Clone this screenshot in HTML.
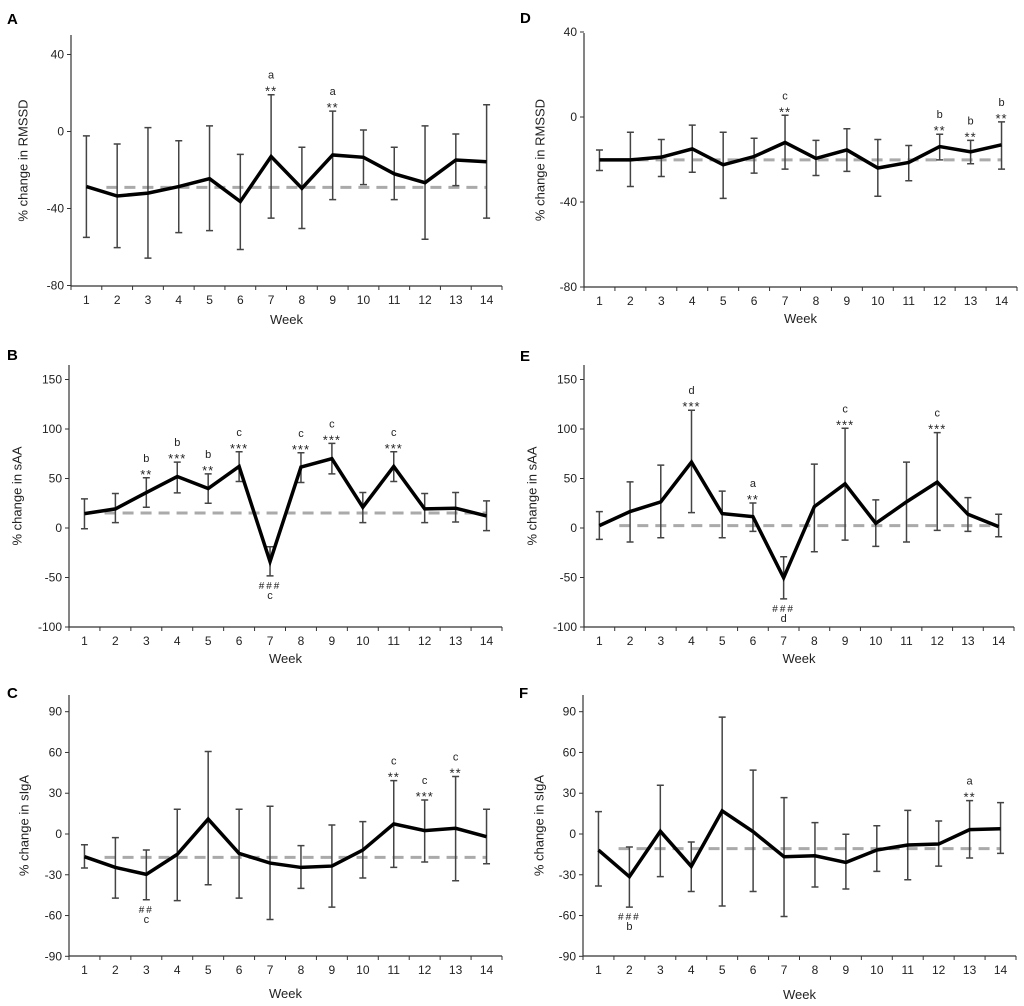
<!DOCTYPE html>
<html><head><meta charset="utf-8"><style>
html,body{margin:0;padding:0;background:#fff;}
svg{display:block;font-family:"Liberation Sans",Arial,sans-serif;}
</style></head><body>
<svg id="fig" width="1024" height="1006" viewBox="0 0 1024 1006"></svg>
<script>
const weeks = [1,2,3,4,5,6,7,8,9,10,11,12,13,14];

const aMean = [-28.6,-33.5,-32,-28.6,-24.5,-36.4,-13,-29.5,-12.2,-13.4,-22,-26.6,-14.8,-15.7];
const aHi = [-2.3,-6.5,2,-4.8,2.9,-11.9,19.1,-8.2,10.6,0.8,-8.2,2.9,-1.3,13.9];
const aLo = [-55,-60.3,-65.8,-52.5,-51.5,-61.3,-45,-50.4,-35.4,-27.6,-35.4,-56,-28.1,-45];
const aBase = -29;
const aTicks = [-80,-40,0,40];

const dMean = [-20.2,-20.2,-18.9,-15,-22.5,-18.6,-12,-19.5,-15.5,-24,-21.4,-13.9,-16.4,-13.1];
const dHi = [-15.5,-7.2,-10.6,-3.8,-7.2,-10,0.8,-11,-5.5,-10.6,-13.4,-8.1,-11,-2.3];
const dLo = [-25.2,-32.7,-28,-26,-38.3,-26.4,-24.5,-27.5,-25.6,-37.3,-30,-20.2,-22,-24.5];
const dBase = -20.2;
const dTicks = [-80,-40,0,40];

const bMean = [14.5,19.3,35.8,52,39.9,62.2,-34,61.5,70,21,62.2,19.3,20,12.2];
const bHi = [29.4,34.8,50.7,66.6,54.7,77,-19,76,85.5,35.8,77,34.8,35.8,27.4];
const bLo = [-0.7,5.4,21,35.5,25,47,-48.3,46,54.7,5.4,47,5.4,6,-2.7];
const bBase = 15.2;
const bTicks = [-100,-50,0,50,100,150];

const eMean = [2.4,16.6,26.4,66.6,14.5,11.5,-50.3,21.6,44.6,4.7,26.4,46.3,13.9,1.4];
const eHi = [16.6,46.6,63.5,119,37.2,25.3,-29,64.5,100.7,28.4,66.6,96.3,30.7,13.9];
const eLo = [-11.5,-14.2,-9.8,15.5,-9.8,-3.4,-71.6,-24,-12.2,-18.6,-14.2,-2.4,-3.4,-8.8];
const eBase = 2.4;
const eTicks = [-100,-50,0,50,100,150];

const cMean = [-16.7,-24.6,-29.7,-15,11,-14.3,-21.4,-24.6,-23.6,-11.8,7.4,2.5,4.2,-2];
const cHi = [-7.9,-2.7,-11.8,18.2,60.7,18.2,20.4,-8.6,6.6,9.1,39.3,25,42.3,18.2];
const cLo = [-25,-47.2,-48.4,-49,-37.3,-47.2,-62.9,-40,-53.8,-32.4,-24.6,-20.6,-34.4,-21.9];
const cBase = -17.2;
const cTicks = [-90,-60,-30,0,30,60,90];

const fMean = [-11.8,-31.4,2,-23.8,17,1.7,-16.7,-16,-20.9,-11.8,-8.1,-7.4,3.2,3.9];
const fHi = [16.5,-9.6,35.9,-5.9,86,47,26.8,8.4,-0.2,6.1,17.4,9.6,24.6,23.1];
const fLo = [-38.3,-53.8,-31.4,-42.3,-53,-42.3,-60.7,-39,-40.5,-27.5,-33.7,-23.6,-17.7,-14.3];
const fBase = -10.8;
const fTicks = [-90,-60,-30,0,30,60,90];

const aAbove = [[7,'a','**'],[9,'a','**']];
const dAbove = [[7,'c','**'],[12,'b','**'],[13,'b','**'],[14,'b','**']];
const bAbove = [[3,'b','**'],[4,'b','***'],[5,'b','**'],[6,'c','***'],[8,'c','***'],[9,'c','***'],[11,'c','***']];
const bBelow = [[7,'###','c']];
const eAbove = [[4,'d','***'],[6,'a','**'],[9,'c','***'],[12,'c','***']];
const eBelow = [[7,'###','d']];
const cAbove = [[11,'c','**'],[12,'c','***'],[13,'c','**']];
const cBelow = [[3,'##','c']];
const fAbove = [[13,'a','**']];
const fBelow = [[2,'###','b']];

const NS='http://www.w3.org/2000/svg';
const svg=document.getElementById('fig');
function mk(tag,attrs,parent){const e=document.createElementNS(NS,tag);for(const k in attrs)e.setAttribute(k,attrs[k]);(parent||svg).appendChild(e);return e;}

function panel(o){
  const g=mk('g',{});
  
  
  const L=o.left,R=o.right,B=o.bottom,T=o.top;
  const y=v=>o.y0px-(v-o.y0)*o.ppu;
  const step=(R-L)/weeks.length;
  const x=i=>L+step*(i+0.5);
  const lt=mk('text',{x:o.lx,y:o.ly,'font-size':15,'font-weight':'bold',fill:'#000'},g);lt.textContent=o.letter;
  
  const ax=mk('path',{d:`M${L},${T}V${B}H${R}`,stroke:'#333','stroke-width':1.2,fill:'none'},g);
  
  o.ticks.forEach(t=>{
    const yy=y(t);
    mk('line',{x1:L-4,x2:L,y1:yy,y2:yy,stroke:'#333','stroke-width':1},g);
    const tx=mk('text',{x:L-7,y:yy+4,'font-size':12,'text-anchor':'end',fill:'#222'},g);tx.textContent=t;
    
  });
  for(let i=0;i<=weeks.length;i++){const xx=L+step*i;mk('line',{x1:xx,x2:xx,y1:B,y2:B+4,stroke:'#333','stroke-width':1},g);}
  weeks.forEach((w,i)=>{
    const tx=mk('text',{x:x(i),y:B+18,'font-size':12,'text-anchor':'middle',fill:'#222'},g);tx.textContent=w;
    
  });
  const xt=mk('text',{x:(L+R)/2,y:o.wy,'font-size':13,'text-anchor':'middle',fill:'#222'},g);xt.textContent='Week';
  
  const yc=(T+B)/2;
  const yt=mk('text',{x:o.tx,y:yc,'font-size':13,'text-anchor':'middle',fill:'#222',transform:`rotate(-90 ${o.tx} ${yc})`,'dominant-baseline':'middle'},g);yt.textContent=o.ytitle;
  
  const bl=mk('line',{x1:x(0)+step*0.65,x2:x(13),y1:y(o.base),y2:y(o.base),stroke:'#aaa','stroke-width':3,'stroke-dasharray':'11,7'},g);
  
  o.mean.forEach((m,i)=>{
    const xx=x(i),yh=y(o.hi[i]),yl=y(o.lo[i]);
    const eb=mk('path',{d:`M${xx},${yh}V${yl}M${xx-3.5},${yh}H${xx+3.5}M${xx-3.5},${yl}H${xx+3.5}`,stroke:'#444','stroke-width':1.5,fill:'none'},g);
    
  });
  const ln=mk('polyline',{points:o.mean.map((m,i)=>x(i)+','+y(m)).join(' '),stroke:'#000','stroke-width':3.5,fill:'none','stroke-linejoin':'miter'},g);
  
  (o.above||[]).forEach(a=>{
    const i=a[0]-1,top=y(o.hi[i]);
    const s=mk('text',{x:x(i),y:top+1,'font-size':13,'letter-spacing':1,'text-anchor':'middle',fill:'#222'},g);s.textContent=a[2];
    
    const l=mk('text',{x:x(i),y:top-16,'font-size':11,'text-anchor':'middle',fill:'#222'},g);l.textContent=a[1];
    
  });
  (o.below||[]).forEach(a=>{
    const i=a[0]-1,bot=y(o.lo[i]);
    const s=mk('text',{x:x(i),y:bot+13,'font-size':10,'letter-spacing':2,'text-anchor':'middle',fill:'#222'},g);s.textContent=a[1];
    
    const l=mk('text',{x:x(i),y:bot+23,'font-size':11,'text-anchor':'middle',fill:'#222'},g);l.textContent=a[2];
    
  });
}

panel({letter:'A',lx:7,ly:24,left:71,right:502,top:35,bottom:286,y0:0,y0px:131.5,ppu:1.925,ticks:aTicks,mean:aMean,hi:aHi,lo:aLo,base:aBase,above:aAbove,ytitle:'% change in RMSSD',tx:24,wy:324});
panel({letter:'D',lx:520,ly:23,left:584,right:1017,top:33,bottom:287,y0:0,y0px:117,ppu:2.125,ticks:dTicks,mean:dMean,hi:dHi,lo:dLo,base:dBase,above:dAbove,ytitle:'% change in RMSSD',tx:541,wy:323});
panel({letter:'B',lx:7,ly:360,left:69,right:502,top:365,bottom:627,y0:0,y0px:528,ppu:0.99,ticks:bTicks,mean:bMean,hi:bHi,lo:bLo,base:bBase,above:bAbove,below:bBelow,ytitle:'% change in sAA',tx:18,wy:663});
panel({letter:'E',lx:520,ly:361,left:584,right:1014,top:365,bottom:627,y0:0,y0px:528,ppu:0.99,ticks:eTicks,mean:eMean,hi:eHi,lo:eLo,base:eBase,above:eAbove,below:eBelow,ytitle:'% change in sAA',tx:533,wy:663});
panel({letter:'C',lx:7,ly:698,left:69,right:502,top:695,bottom:956,y0:0,y0px:834,ppu:1.359,ticks:cTicks,mean:cMean,hi:cHi,lo:cLo,base:cBase,above:cAbove,below:cBelow,ytitle:'% change in sIgA',tx:25,wy:998});
panel({letter:'F',lx:519,ly:698,left:583,right:1016,top:695,bottom:956,y0:0,y0px:834,ppu:1.359,ticks:fTicks,mean:fMean,hi:fHi,lo:fLo,base:fBase,above:fAbove,below:fBelow,ytitle:'% change in sIgA',tx:540,wy:999});
</script>
</body></html>
